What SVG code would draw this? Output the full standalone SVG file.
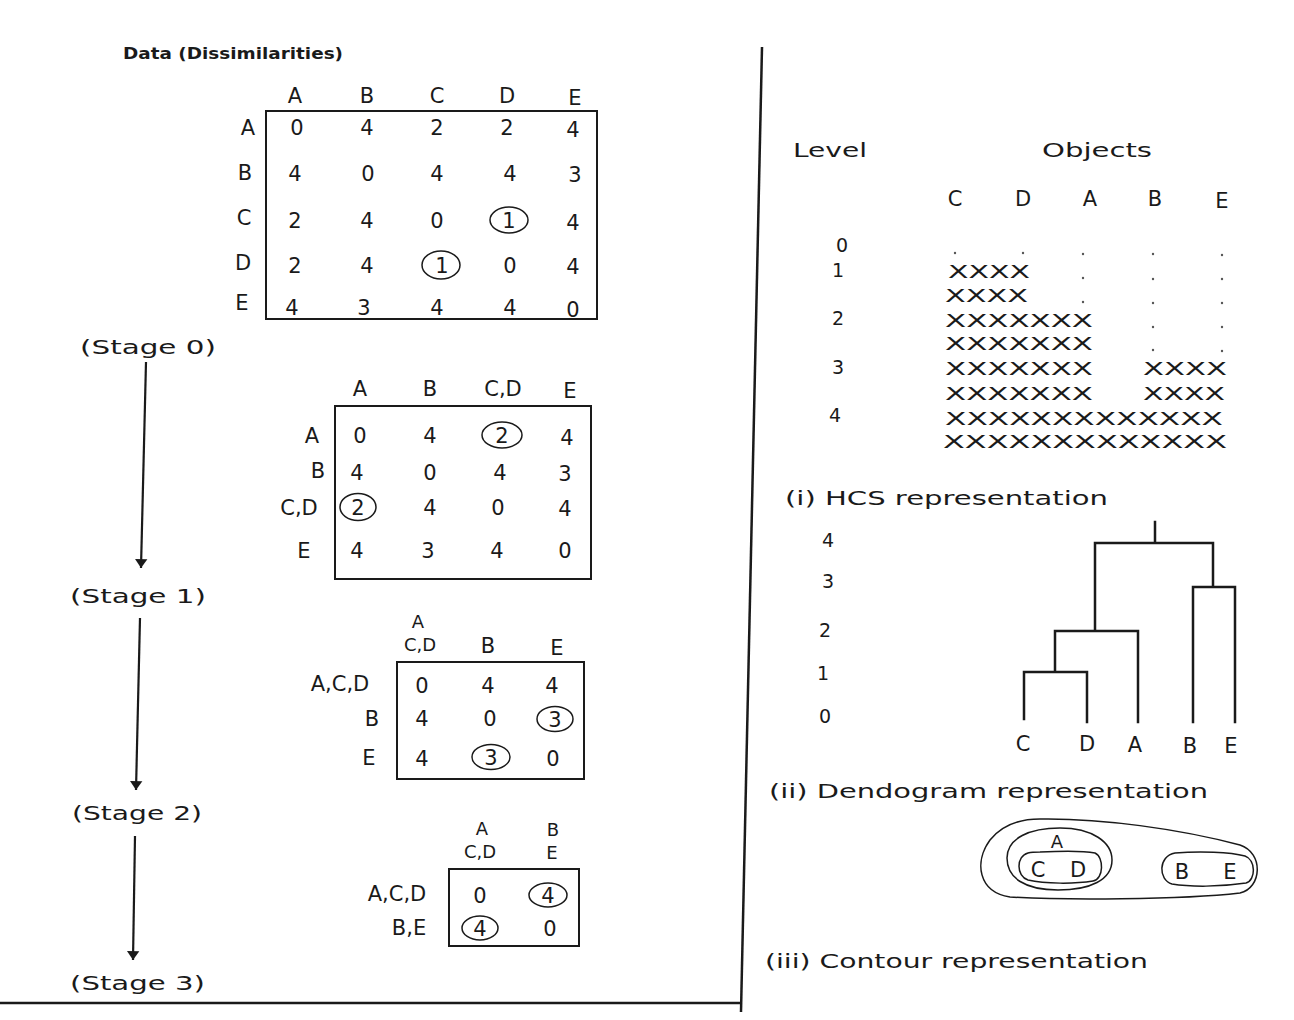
<svg xmlns="http://www.w3.org/2000/svg" width="1294" height="1020" viewBox="0 0 1294 1020">
<defs>
<style>
text{font-family:"DejaVu Sans","Liberation Sans",sans-serif;fill:#1a1a1a}
.v{font-size:21px;text-anchor:middle}
.h{font-size:18px;text-anchor:middle}
.lv{font-size:19px;text-anchor:middle}
.lab{font-size:20px}
.x{font-size:18px}
.box{fill:none;stroke:#1a1a1a;stroke-width:2}
.c{fill:none;stroke:#1a1a1a;stroke-width:1.5}
.tr{fill:none;stroke:#1a1a1a;stroke-width:2.5;stroke-linecap:square}
.ln{fill:none;stroke:#1a1a1a;stroke-width:2.2}
.dot{fill:#555}
</style>
<marker id="ah" viewBox="0 0 10 20" refX="10" refY="10" markerWidth="4" markerHeight="8" orient="auto" markerUnits="strokeWidth">
<path d="M0,3 L10,10 L0,17 Z" fill="#1a1a1a"/>
</marker>
</defs>
<rect width="1294" height="1020" fill="#fff"/>

<g id="title">
<text x="123" y="59" style="font-size:15px;font-weight:bold" textLength="220" lengthAdjust="spacingAndGlyphs">Data (Dissimilarities)</text>
</g>

<g id="stage0">
<text class="lab" x="80" y="354" textLength="136" lengthAdjust="spacingAndGlyphs">(Stage 0)</text>
</g>
<g id="stage1">
<text class="lab" x="70" y="603" textLength="136" lengthAdjust="spacingAndGlyphs">(Stage 1)</text>
</g>
<g id="stage2">
<text class="lab" x="72" y="820" textLength="130" lengthAdjust="spacingAndGlyphs">(Stage 2)</text>
</g>
<g id="stage3">
<text class="lab" x="70" y="990" textLength="135" lengthAdjust="spacingAndGlyphs">(Stage 3)</text>
</g>

<g id="connectors">
<line class="ln" x1="146" y1="362" x2="141" y2="568" marker-end="url(#ah)"/>
<line class="ln" x1="140" y1="618" x2="136" y2="790" marker-end="url(#ah)"/>
<line class="ln" x1="135" y1="836" x2="133" y2="960" marker-end="url(#ah)"/>
</g>

<g id="matrix0">
<rect class="box" x="266" y="111" width="331" height="208"/>
<text class="v" x="295" y="103">A</text><text class="v" x="367" y="103">B</text><text class="v" x="437" y="103">C</text><text class="v" x="507" y="103">D</text><text class="v" x="575" y="105">E</text>
<text class="v" x="248" y="135">A</text><text class="v" x="245" y="180">B</text><text class="v" x="244" y="225">C</text><text class="v" x="243" y="270">D</text><text class="v" x="242" y="310">E</text>
<text class="v" x="297" y="135">0</text><text class="v" x="367" y="135">4</text><text class="v" x="437" y="135">2</text><text class="v" x="507" y="135">2</text><text class="v" x="573" y="137">4</text>
<text class="v" x="295" y="181">4</text><text class="v" x="368" y="181">0</text><text class="v" x="437" y="181">4</text><text class="v" x="510" y="181">4</text><text class="v" x="575" y="182">3</text>
<text class="v" x="295" y="228">2</text><text class="v" x="367" y="228">4</text><text class="v" x="437" y="228">0</text><text class="v" x="509" y="228">1</text><text class="v" x="573" y="230">4</text>
<text class="v" x="295" y="273">2</text><text class="v" x="367" y="273">4</text><text class="v" x="442" y="273">1</text><text class="v" x="510" y="273">0</text><text class="v" x="573" y="274">4</text>
<text class="v" x="292" y="315">4</text><text class="v" x="364" y="315">3</text><text class="v" x="437" y="315">4</text><text class="v" x="510" y="315">4</text><text class="v" x="573" y="317">0</text>
<ellipse class="c" cx="509" cy="220" rx="19" ry="13"/>
<ellipse class="c" cx="441" cy="265" rx="19" ry="14"/>
</g>

<g id="matrix1">
<rect class="box" x="335" y="406" width="256" height="173"/>
<text class="v" x="360" y="396">A</text><text class="v" x="430" y="396">B</text><text class="v" x="503" y="396">C,D</text><text class="v" x="570" y="398">E</text>
<text class="v" x="312" y="443">A</text><text class="v" x="318" y="478">B</text><text class="v" x="299" y="515">C,D</text><text class="v" x="304" y="558">E</text>
<text class="v" x="360" y="443">0</text><text class="v" x="430" y="443">4</text><text class="v" x="502" y="443">2</text><text class="v" x="567" y="445">4</text>
<text class="v" x="357" y="480">4</text><text class="v" x="430" y="480">0</text><text class="v" x="500" y="480">4</text><text class="v" x="565" y="481">3</text>
<text class="v" x="358" y="515">2</text><text class="v" x="430" y="515">4</text><text class="v" x="498" y="515">0</text><text class="v" x="565" y="516">4</text>
<text class="v" x="357" y="558">4</text><text class="v" x="428" y="558">3</text><text class="v" x="497" y="558">4</text><text class="v" x="565" y="558">0</text>
<ellipse class="c" cx="502" cy="435" rx="20" ry="13"/>
<ellipse class="c" cx="358" cy="507" rx="18" ry="13.5"/>
</g>

<g id="matrix2">
<rect class="box" x="397" y="662" width="187" height="117"/>
<text class="h" x="418" y="628">A</text><text class="h" x="420" y="651">C,D</text><text class="v" x="488" y="653">B</text><text class="v" x="557" y="655">E</text>
<text class="v" x="340" y="691">A,C,D</text><text class="v" x="372" y="726">B</text><text class="v" x="369" y="765">E</text>
<text class="v" x="422" y="693">0</text><text class="v" x="488" y="693">4</text><text class="v" x="552" y="693">4</text>
<text class="v" x="422" y="726">4</text><text class="v" x="490" y="726">0</text><text class="v" x="555" y="727">3</text>
<text class="v" x="422" y="766">4</text><text class="v" x="491" y="765">3</text><text class="v" x="553" y="766">0</text>
<ellipse class="c" cx="555" cy="719" rx="18" ry="12.5"/>
<ellipse class="c" cx="491" cy="757" rx="19" ry="12.5"/>
</g>

<g id="matrix3">
<rect class="box" x="449" y="869" width="130" height="77"/>
<text class="h" x="482" y="835">A</text><text class="h" x="480" y="858">C,D</text><text class="h" x="553" y="836">B</text><text class="h" x="552" y="859">E</text>
<text class="v" x="397" y="901">A,C,D</text><text class="v" x="409" y="935">B,E</text>
<text class="v" x="480" y="903">0</text><text class="v" x="548" y="903">4</text>
<text class="v" x="480" y="936">4</text><text class="v" x="550" y="936">0</text>
<ellipse class="c" cx="548" cy="895" rx="19" ry="12"/>
<ellipse class="c" cx="480" cy="928" rx="18" ry="12"/>
</g>

<g id="divider">
<line x1="762" y1="47" x2="741" y2="1012" stroke="#1a1a1a" stroke-width="2.5"/>
<line x1="0" y1="1003" x2="741" y2="1003" stroke="#1a1a1a" stroke-width="2.5"/>
</g>

<g id="hcs">
<text class="lab" x="793" y="157" textLength="74" lengthAdjust="spacingAndGlyphs">Level</text>
<text class="lab" x="1042" y="157" textLength="110" lengthAdjust="spacingAndGlyphs">Objects</text>
<text class="v" x="955" y="206">C</text><text class="v" x="1023" y="206">D</text><text class="v" x="1090" y="206">A</text><text class="v" x="1155" y="206">B</text><text class="v" x="1222" y="208">E</text>
<text class="lv" x="842" y="252">0</text><text class="lv" x="838" y="277">1</text><text class="lv" x="838" y="325">2</text><text class="lv" x="838" y="374">3</text><text class="lv" x="835" y="422">4</text>
<circle class="dot" cx="955" cy="253" r="1.2"/><circle class="dot" cx="1023" cy="253" r="1.2"/><circle class="dot" cx="1083" cy="254" r="1.2"/><circle class="dot" cx="1153" cy="254" r="1.2"/><circle class="dot" cx="1222" cy="255" r="1.2"/>
<circle class="dot" cx="1083" cy="278" r="1.2"/><circle class="dot" cx="1153" cy="279" r="1.2"/><circle class="dot" cx="1222" cy="279" r="1.2"/>
<circle class="dot" cx="1083" cy="302" r="1.2"/><circle class="dot" cx="1153" cy="303" r="1.2"/><circle class="dot" cx="1222" cy="303" r="1.2"/>
<circle class="dot" cx="1153" cy="327" r="1.2"/><circle class="dot" cx="1222" cy="327" r="1.2"/>
<circle class="dot" cx="1153" cy="350" r="1.2"/><circle class="dot" cx="1222" cy="351" r="1.2"/>
<text class="x" x="948" y="278" textLength="82" lengthAdjust="spacingAndGlyphs">XXXX</text>
<text class="x" x="945" y="302" textLength="83" lengthAdjust="spacingAndGlyphs">XXXX</text>
<text class="x" x="945" y="327" textLength="148" lengthAdjust="spacingAndGlyphs">XXXXXXX</text>
<text class="x" x="945" y="350" textLength="148" lengthAdjust="spacingAndGlyphs">XXXXXXX</text>
<text class="x" x="945" y="375" textLength="148" lengthAdjust="spacingAndGlyphs">XXXXXXX</text>
<text class="x" x="1143" y="375" textLength="84" lengthAdjust="spacingAndGlyphs">XXXX</text>
<text class="x" x="945" y="400" textLength="148" lengthAdjust="spacingAndGlyphs">XXXXXXX</text>
<text class="x" x="1143" y="400" textLength="82" lengthAdjust="spacingAndGlyphs">XXXX</text>
<text class="x" x="945" y="425" textLength="278" lengthAdjust="spacingAndGlyphs">XXXXXXXXXXXXX</text>
<text class="x" x="943" y="448" textLength="284" lengthAdjust="spacingAndGlyphs">XXXXXXXXXXXXX</text>
<text class="lab" x="785" y="505" textLength="323" lengthAdjust="spacingAndGlyphs">(i) HCS representation</text>
</g>

<g id="dendrogram">
<text class="lv" x="828" y="547">4</text><text class="lv" x="828" y="588">3</text><text class="lv" x="825" y="637">2</text><text class="lv" x="823" y="680">1</text><text class="lv" x="825" y="723">0</text>
<path class="tr" d="M1155,522 V543 M1095,543 H1213 M1095,543 V631 M1055,631 H1138 V722 M1055,631 V672 M1024,672 H1087 V722 M1024,672 V719 M1213,543 V587 M1193,587 H1235 V722 M1193,587 V722"/>
<text class="v" x="1023" y="751">C</text><text class="v" x="1087" y="751">D</text><text class="v" x="1135" y="752">A</text><text class="v" x="1190" y="753">B</text><text class="v" x="1231" y="753">E</text>
<text class="lab" x="769" y="798" textLength="439" lengthAdjust="spacingAndGlyphs">(ii) Dendogram representation</text>
</g>

<g id="contour">
<path class="c" d="M1040,819 C1100,818 1180,829 1240,845 C1264,853 1262,888 1240,893 C1180,900 1060,900 1010,897 C978,892 974,862 990,840 C1002,825 1020,819 1040,819 Z"/>
<path class="c" d="M1060,828 C1092,828 1112,842 1112,860 C1112,880 1090,890 1058,890 C1025,890 1007,878 1007,858 C1007,838 1030,828 1060,828 Z"/>
<path class="c" d="M1040,852 C1060,851 1085,851 1095,853 C1104,857 1104,879 1093,881 C1075,884 1045,884 1028,880 C1016,876 1016,856 1028,853 C1032,852 1036,852 1040,852 Z"/>
<text class="h" x="1057" y="848">A</text>
<text class="v" x="1038" y="877">C</text><text class="v" x="1078" y="877">D</text>
<path class="c" d="M1175,853 C1200,851 1230,852 1245,856 C1256,860 1256,880 1246,883 C1220,887 1190,887 1172,884 C1158,880 1158,856 1175,853 Z"/>
<text class="v" x="1182" y="879">B</text><text class="v" x="1230" y="879">E</text>
<text class="lab" x="765" y="968" textLength="383" lengthAdjust="spacingAndGlyphs">(iii) Contour representation</text>
</g>
</svg>
